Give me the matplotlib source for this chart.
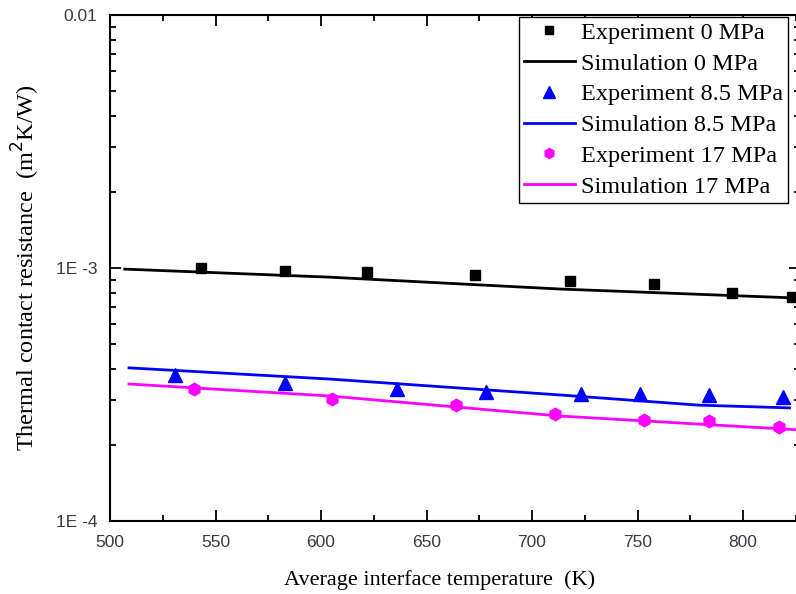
import matplotlib
matplotlib.use("Agg")
import matplotlib.pyplot as plt
from matplotlib.ticker import FixedLocator, MultipleLocator, LogLocator, NullFormatter, FixedFormatter

# Experimental data: temperature (K) and thermal contact resistance (m^2K/W)
exp0_T = [543, 583, 622, 673, 718, 758, 795, 823]
exp0_R = [1.00e-3, 0.973e-3, 0.964e-3, 0.938e-3, 0.889e-3, 0.865e-3, 0.797e-3, 0.767e-3]

exp85_T = [531, 583, 636, 678, 723, 751, 784, 819]
exp85_R = [3.78e-4, 3.51e-4, 3.32e-4, 3.24e-4, 3.18e-4, 3.18e-4, 3.15e-4, 3.09e-4]

exp17_T = [540, 605, 664, 711, 753, 784, 817]
exp17_R = [3.33e-4, 3.03e-4, 2.87e-4, 2.65e-4, 2.50e-4, 2.48e-4, 2.35e-4]

# Simulation curves
sim0_T = [507, 604, 713, 827]
sim0_R = [0.99e-3, 0.92e-3, 0.826e-3, 0.760e-3]

sim85_T = [509, 604, 713, 779, 822]
sim85_R = [4.03e-4, 3.64e-4, 3.15e-4, 2.87e-4, 2.80e-4]

sim17_T = [509, 604, 713, 827]
sim17_R = [3.48e-4, 3.12e-4, 2.60e-4, 2.29e-4]

x_ticks = [500, 550, 600, 650, 700, 750, 800]
y_ticks = [1e-4, 1e-3, 1e-2]
y_tick_labels = ["1E -4", "1E -3", "0.01"]

serif = ["Liberation Serif", "DejaVu Serif"]
sans = ["Liberation Sans", "DejaVu Sans"]

fig = plt.figure(figsize=(7.96, 5.94), dpi=100)
ax = fig.add_axes([110 / 796, 1 - 521 / 594, 690 / 796, (521 - 15) / 594])

ax.plot(exp0_T, exp0_R, "s", color="black", markersize=7, label="Experiment 0 MPa", zorder=3)
ax.plot(sim0_T, sim0_R, "-", color="black", lw=2.0, label="Simulation 0 MPa")
ax.plot(exp85_T, exp85_R, "^", color="#0000ff", markersize=10, label="Experiment 8.5 MPa", zorder=3)
ax.plot(sim85_T, sim85_R, "-", color="#0000ff", lw=2.0, label="Simulation 8.5 MPa")
ax.plot(exp17_T, exp17_R, "h", color="#ff00ff", markersize=9, label="Experiment 17 MPa", zorder=3)
ax.plot(sim17_T, sim17_R, "-", color="#ff00ff", lw=2.0, label="Simulation 17 MPa")

ax.set_yscale("log")
ax.set_xlim(500, 827)
ax.set_ylim(1e-4, 1e-2)

ax.xaxis.set_major_locator(FixedLocator(x_ticks))
ax.xaxis.set_minor_locator(MultipleLocator(25))
ax.yaxis.set_major_locator(FixedLocator(y_ticks))
ax.yaxis.set_major_formatter(FixedFormatter(y_tick_labels))
ax.yaxis.set_minor_locator(LogLocator(base=10, subs=range(2, 10)))
ax.yaxis.set_minor_formatter(NullFormatter())

ax.tick_params(axis="both", which="both", direction="in", top=True, right=True,
               width=1.3, labelsize=12.5, labelcolor="#3a3a48")
ax.tick_params(axis="both", which="major", length=8)
ax.tick_params(axis="both", which="minor", length=4)
ax.tick_params(axis="x", which="major", pad=10)
ax.tick_params(axis="y", which="major", pad=9)
for lbl in ax.get_xticklabels() + ax.get_yticklabels():
    lbl.set_family(sans)

for sp in ax.spines.values():
    sp.set_linewidth(1.5)

ax.set_xlabel("Average interface temperature  (K)", fontsize=16, family=serif)
ax.xaxis.set_label_coords(0.478, -0.097)
ax.set_ylabel("Thermal contact resistance  (m$^2$K/W)", fontsize=17.5, family=serif)
ax.yaxis.set_label_coords(-0.099, 0.5)

leg = ax.legend(loc="upper right", bbox_to_anchor=(788 / 796, 1 - 17 / 594),
                bbox_transform=fig.transFigure, borderaxespad=0, fancybox=False,
                framealpha=1, edgecolor="black", prop={"family": serif, "size": 17.5},
                handlelength=2.1, handletextpad=0.25, labelspacing=0.36, borderpad=0.2,
                markerscale=0.8)
leg.get_frame().set_linewidth(1.0)

fig.savefig("out.png", dpi=100)
